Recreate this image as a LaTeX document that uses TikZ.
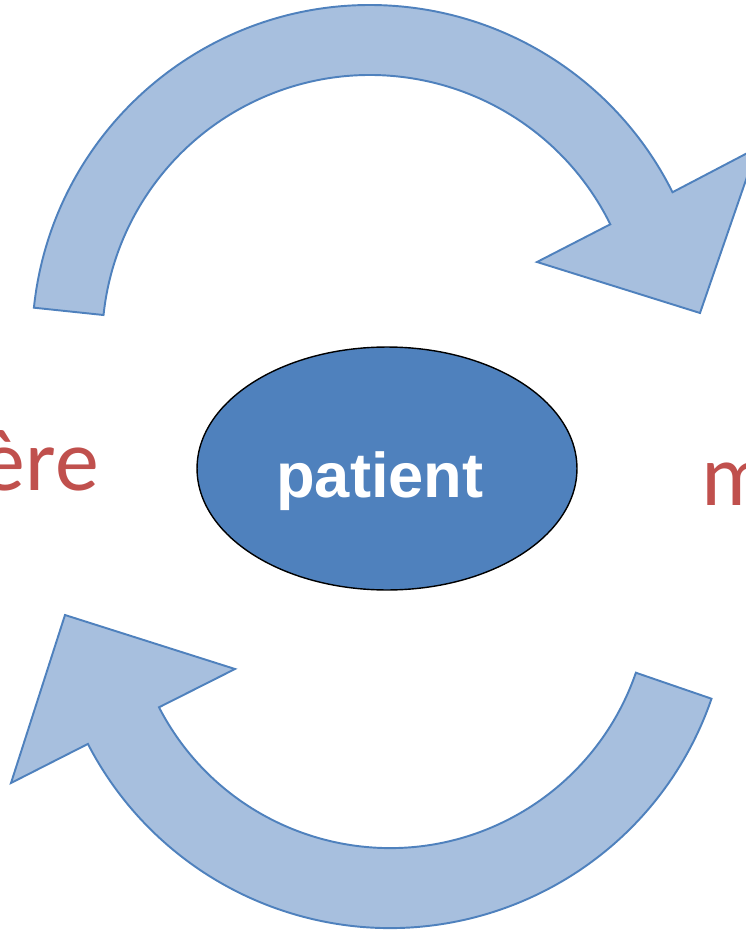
\documentclass[tikz,border=0pt]{standalone}
\usepackage{fontspec}
\setmainfont{Carlito}
\newfontfamily\patfont{Liberation Sans}
\usetikzlibrary{shapes.geometric}
\definecolor{arrowfill}{HTML}{A7BFDE}
\definecolor{arrowline}{HTML}{4F81BD}
\definecolor{patblue}{HTML}{4F81BD}
\definecolor{wordred}{HTML}{C0504D}

\begin{document}
\begin{tikzpicture}[x=0.02cm,y=0.02cm,
    cyclearrow/.style={fill=arrowfill,draw=arrowline,line width=1.1pt,line join=miter},
    word/.style={text=wordred,font=\fontsize{50}{60}\selectfont,inner sep=0pt}]
    \useasboundingbox (0,0) rectangle (746,-932);

    \draw[cyclearrow] (33.9,-307.7) arc[start angle=174,end angle=26.5,radius=338]
      -- (757,-148) -- (700,-313) -- (537,-262) -- (610.3,-224.3)
      arc[start angle=26.3,end angle=174,radius=268] -- cycle;
    \draw[cyclearrow] (711.5,-698.7) arc[start angle=-19,end angle=-152.7,radius=340]
      -- (11,-783) -- (65,-615) -- (235,-669) -- (159,-707.3)
      arc[start angle=-152.7,end angle=-19,radius=260] -- cycle;

    \node[ellipse,draw=black,line width=0.8pt,fill=patblue,minimum width=7.6cm,
      minimum height=4.86cm,inner sep=0pt] (pat) at (387,-468.5) {};
    \node[anchor=base,text=white,font=\patfont\bfseries\fontsize{36}{40}\selectfont,
      inner sep=0pt] (patword) at (380,-497) {patient};

    \node[word,anchor=base east] (leftword) at (99,-490) {ère};
    \node[word,anchor=base west] (rightword) at (701,-505) {m};
  \end{tikzpicture}
\end{document}
